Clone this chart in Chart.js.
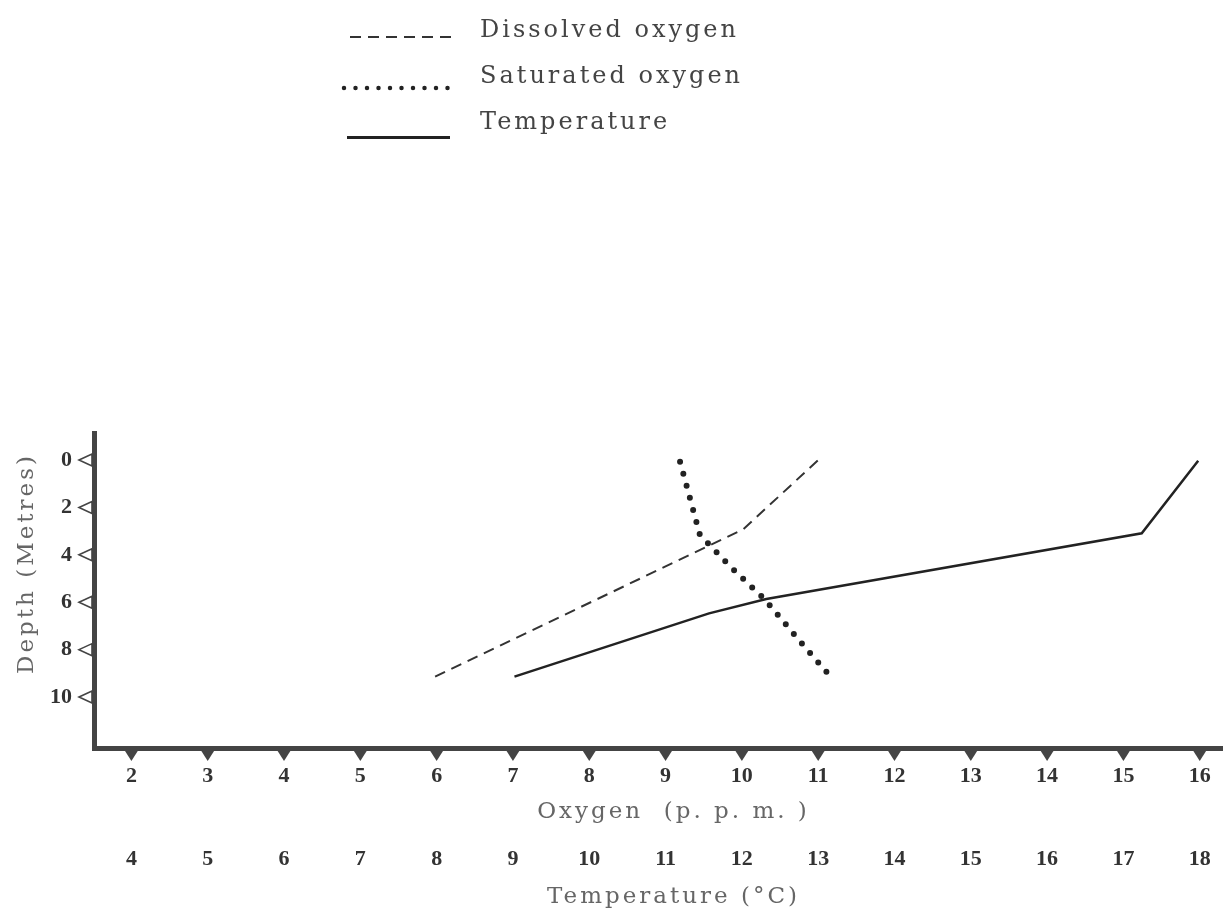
<!DOCTYPE html>
<html>
<head>
<meta charset="utf-8">
<script src="https://cdn.jsdelivr.net/npm/chart.js@4.4.1/dist/chart.umd.min.js"></script>
<style>
  html, body { margin: 0; padding: 0; background: #fff; }
  #wrap { position: relative; width: 1223px; height: 914px; }
  #legend { position: absolute; left: 0; top: 0; }
  #legend text { font-family: "DejaVu Serif", serif; font-size: 24px; fill: #444; letter-spacing: 3px; }
</style>
</head>
<body>
<div id="wrap">
  <canvas id="chart"></canvas>
  <svg id="legend" width="780" height="150">
    <line x1="350" y1="37" x2="452" y2="37" stroke="#333" stroke-width="2" stroke-dasharray="11 7"/>
    <text x="480" y="37">Dissolved oxygen</text>
    <line x1="344" y1="88" x2="452" y2="88" stroke="#222" stroke-width="4.5" stroke-linecap="round" stroke-dasharray="0 11.5"/>
    <text x="480" y="83">Saturated oxygen</text>
    <line x1="347" y1="137.5" x2="450" y2="137.5" stroke="#222" stroke-width="3"/>
    <text x="480" y="129">Temperature</text>
  </svg>
</div>
<script>
// axis ticks
const oxygenTicks = [2, 3, 4, 5, 6, 7, 8, 9, 10, 11, 12, 13, 14, 15, 16];
const tempTicks = [4, 5, 6, 7, 8, 9, 10, 11, 12, 13, 14, 15, 16, 17, 18];
const depthTicks = [0, 2, 4, 6, 8, 10];

// series (oxygen in p.p.m., temperature in deg C, depth in metres)
const dissolvedOxygen = [5.98, 10.02, 11.0];
const dissolvedDepth = [9.14, 2.92, 0];
const saturatedOxygen = [9.19, 9.45, 9.84, 10.3, 10.76, 11.17];
const saturatedDepth = [0.07, 3.16, 4.47, 5.88, 7.64, 9.17];
const temperature = [9.02, 11.57, 12.32, 17.24, 17.98];
const temperatureDepth = [9.14, 6.47, 5.86, 3.09, 0.03];

const toPoints = (xs, ys) => xs.map((v, i) => ({ x: v, y: ys[i] }));

const tickFont = { family: "Liberation Serif", size: 22, weight: "bold" };
const titleFont = { family: "DejaVu Serif", size: 23 };

// little triangles on the axes, like the printed figure
const tickMarks = {
  id: "tickMarks",
  afterDraw(chart) {
    const ctx = chart.ctx, x = chart.scales.x, y = chart.scales.y;
    ctx.save();
    ctx.fillStyle = "#444";
    oxygenTicks.forEach(v => {
      const px = x.getPixelForValue(v);
      ctx.beginPath();
      ctx.moveTo(px - 7, x.top + 2);
      ctx.lineTo(px + 7, x.top + 2);
      ctx.lineTo(px, x.top + 13);
      ctx.closePath();
      ctx.fill();
    });
    ctx.strokeStyle = "#444";
    ctx.lineWidth = 1.6;
    depthTicks.forEach(v => {
      const py = y.getPixelForValue(v);
      ctx.beginPath();
      ctx.moveTo(y.right - 15, py);
      ctx.lineTo(y.right - 2, py - 6);
      ctx.lineTo(y.right - 2, py + 6);
      ctx.closePath();
      ctx.stroke();
    });
    ctx.restore();
  }
};

// wide letter spacing on the axis titles
const spacedTitles = {
  id: "spacedTitles",
  beforeDraw(chart) {
    Object.values(chart.scales).forEach(s => {
      if (s._spaced) return;
      s._spaced = true;
      const draw = s.drawTitle;
      s.drawTitle = function () {
        const ctx = this.ctx;
        ctx.save();
        ctx.letterSpacing = "3px";
        if (this.axis === "y") ctx.translate(0, -27);
        else ctx.translate(15, 0);
        draw.call(this);
        ctx.restore();
      };
    });
  }
};

new Chart(document.getElementById("chart"), {
  type: "scatter",
  data: {
    datasets: [
      {
        label: "Dissolved oxygen",
        data: toPoints(dissolvedOxygen, dissolvedDepth),
        xAxisID: "x",
        showLine: true,
        borderColor: "#333",
        borderWidth: 2,
        borderDash: [11, 7],
        pointRadius: 0,
      },
      {
        label: "Saturated oxygen",
        data: toPoints(saturatedOxygen, saturatedDepth),
        xAxisID: "x",
        showLine: true,
        borderColor: "#222",
        borderWidth: 6,
        borderDash: [0, 12.5],
        borderCapStyle: "round",
        pointRadius: 0,
      },
      {
        label: "Temperature",
        data: toPoints(temperature, temperatureDepth),
        xAxisID: "x2",
        showLine: true,
        borderColor: "#222",
        borderWidth: 2.5,
        pointRadius: 0,
      },
    ],
  },
  options: {
    responsive: true,
    maintainAspectRatio: false,
    animation: false,
    layout: { padding: { top: 433, left: 0, right: 0, bottom: 0 } },
    plugins: {
      legend: { display: false },
      tooltip: { enabled: false },
    },
    scales: {
      x: {
        type: "linear",
        position: "bottom",
        min: 1.51,
        max: 16.305,
        grid: { display: false, tickLength: 15 },
        border: { display: true, width: 5, color: "#444" },
        afterBuildTicks: s => { s.ticks = oxygenTicks.map(v => ({ value: v })); },
        afterFit: s => { s.height = 87; },
        ticks: { font: tickFont, color: "#333", padding: 0, autoSkip: false, maxRotation: 0 },
        title: {
          display: true,
          text: "Oxygen  (p. p. m. )",
          font: titleFont,
          color: "#666",
          padding: { top: 0, bottom: 9 },
        },
      },
      x2: {
        type: "linear",
        position: "bottom",
        min: 3.51,
        max: 18.305,
        grid: { display: false, tickLength: 11 },
        border: { display: false },
        afterBuildTicks: s => { s.ticks = tempTicks.map(v => ({ value: v })); },
        afterFit: s => { s.height = 79; },
        ticks: { font: tickFont, color: "#333", padding: 0, autoSkip: false, maxRotation: 0 },
        title: {
          display: true,
          text: "Temperature (°C)",
          font: titleFont,
          color: "#666",
          padding: { top: 0, bottom: 3 },
        },
      },
      y: {
        type: "linear",
        reverse: true,
        min: -1.14,
        max: 12.15,
        grid: { display: false, tickLength: 22 },
        border: { display: true, width: 5, color: "#444" },
        afterBuildTicks: s => { s.ticks = depthTicks.map(v => ({ value: v })); },
        afterFit: s => { s.width = 94; },
        ticks: { font: tickFont, color: "#333", padding: 0 },
        title: {
          display: true,
          text: "Depth (Metres)",
          font: titleFont,
          color: "#666",
          padding: { top: 13, bottom: 0 },
        },
      },
    },
  },
  plugins: [tickMarks, spacedTitles],
});
</script>
</body>
</html>
